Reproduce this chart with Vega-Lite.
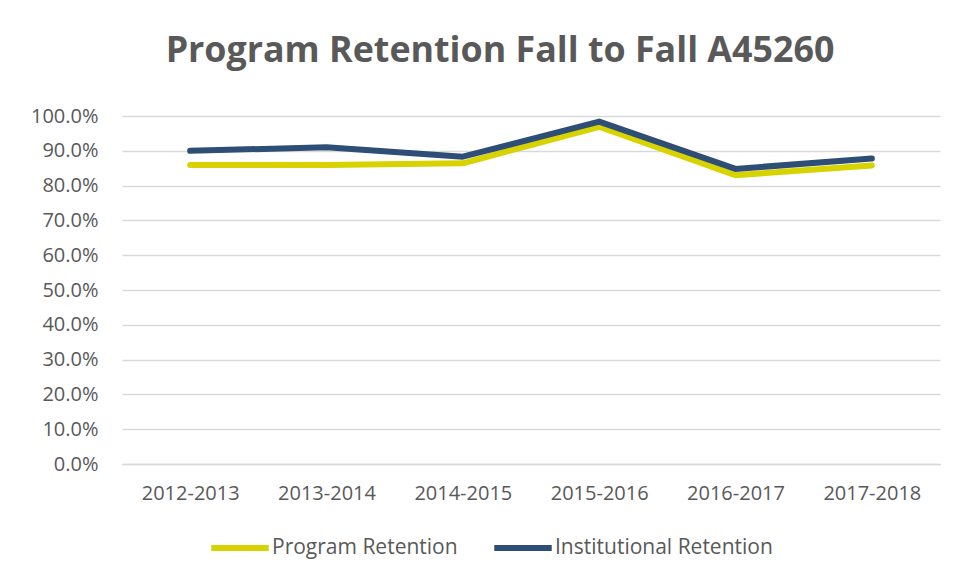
{
  "$schema": "https://vega.github.io/schema/vega-lite/v6.json",
  "autosize": {"type": "none"},
  "width": 818,
  "height": 348,
  "padding": {"left": 122, "top": 116, "right": 16, "bottom": 114},
  "background": "white",
  "title": {
    "text": "Program Retention Fall to Fall A45260",
    "font": "Open Sans",
    "fontSize": 35.8,
    "fontWeight": "bold",
    "color": "#595959",
    "anchor": "middle",
    "frame": "group",
    "dx": -31,
    "offset": 36
  },
  "data": {
    "values": [
      {"year": "2012-2013", "series": "Program Retention", "value": 0.859},
      {"year": "2013-2014", "series": "Program Retention", "value": 0.859},
      {"year": "2014-2015", "series": "Program Retention", "value": 0.864},
      {"year": "2015-2016", "series": "Program Retention", "value": 0.969},
      {"year": "2016-2017", "series": "Program Retention", "value": 0.830},
      {"year": "2017-2018", "series": "Program Retention", "value": 0.858},
      {"year": "2012-2013", "series": "Institutional Retention", "value": 0.900},
      {"year": "2013-2014", "series": "Institutional Retention", "value": 0.910},
      {"year": "2014-2015", "series": "Institutional Retention", "value": 0.883},
      {"year": "2015-2016", "series": "Institutional Retention", "value": 0.984},
      {"year": "2016-2017", "series": "Institutional Retention", "value": 0.848},
      {"year": "2017-2018", "series": "Institutional Retention", "value": 0.878}
    ]
  },
  "mark": {"type": "line", "strokeWidth": 6, "strokeCap": "round", "strokeJoin": "round"},
  "encoding": {
    "x": {
      "field": "year",
      "type": "ordinal",
      "scale": {"type": "point", "padding": 0.5},
      "axis": {
        "title": null,
        "labelAngle": 0,
        "labelFont": "Open Sans",
        "labelFontSize": 20,
        "labelColor": "#595959",
        "labelPadding": 19,
        "ticks": false,
        "domain": true,
        "domainColor": "#d9d9d9",
        "domainWidth": 1.5,
        "grid": false
      }
    },
    "y": {
      "field": "value",
      "type": "quantitative",
      "scale": {"domain": [0, 1], "nice": false},
      "axis": {
        "title": null,
        "values": [0, 0.1, 0.2, 0.3, 0.4, 0.5, 0.6, 0.7, 0.8, 0.9, 1.0],
        "format": ".1%",
        "labelFont": "Open Sans",
        "labelFontSize": 20,
        "labelColor": "#595959",
        "labelPadding": 24,
        "ticks": false,
        "domain": false,
        "gridColor": "#d9d9d9",
        "gridWidth": 1.5
      }
    },
    "color": {
      "field": "series",
      "type": "nominal",
      "scale": {
        "domain": ["Program Retention", "Institutional Retention"],
        "range": ["#D6D300", "#2E4E76"]
      },
      "legend": {
        "title": null,
        "orient": "none",
        "direction": "horizontal",
        "legendX": 86,
        "legendY": 400,
        "symbolType": "stroke",
        "symbolSize": 3300,
        "symbolStrokeWidth": 6,
        "labelFont": "Open Sans",
        "labelFontSize": 21,
        "labelColor": "#595959",
        "labelOffset": 0,
        "labelLimit": 400,
        "columnPadding": 24
      }
    }
  },
  "config": {"view": {"stroke": null}}
}
